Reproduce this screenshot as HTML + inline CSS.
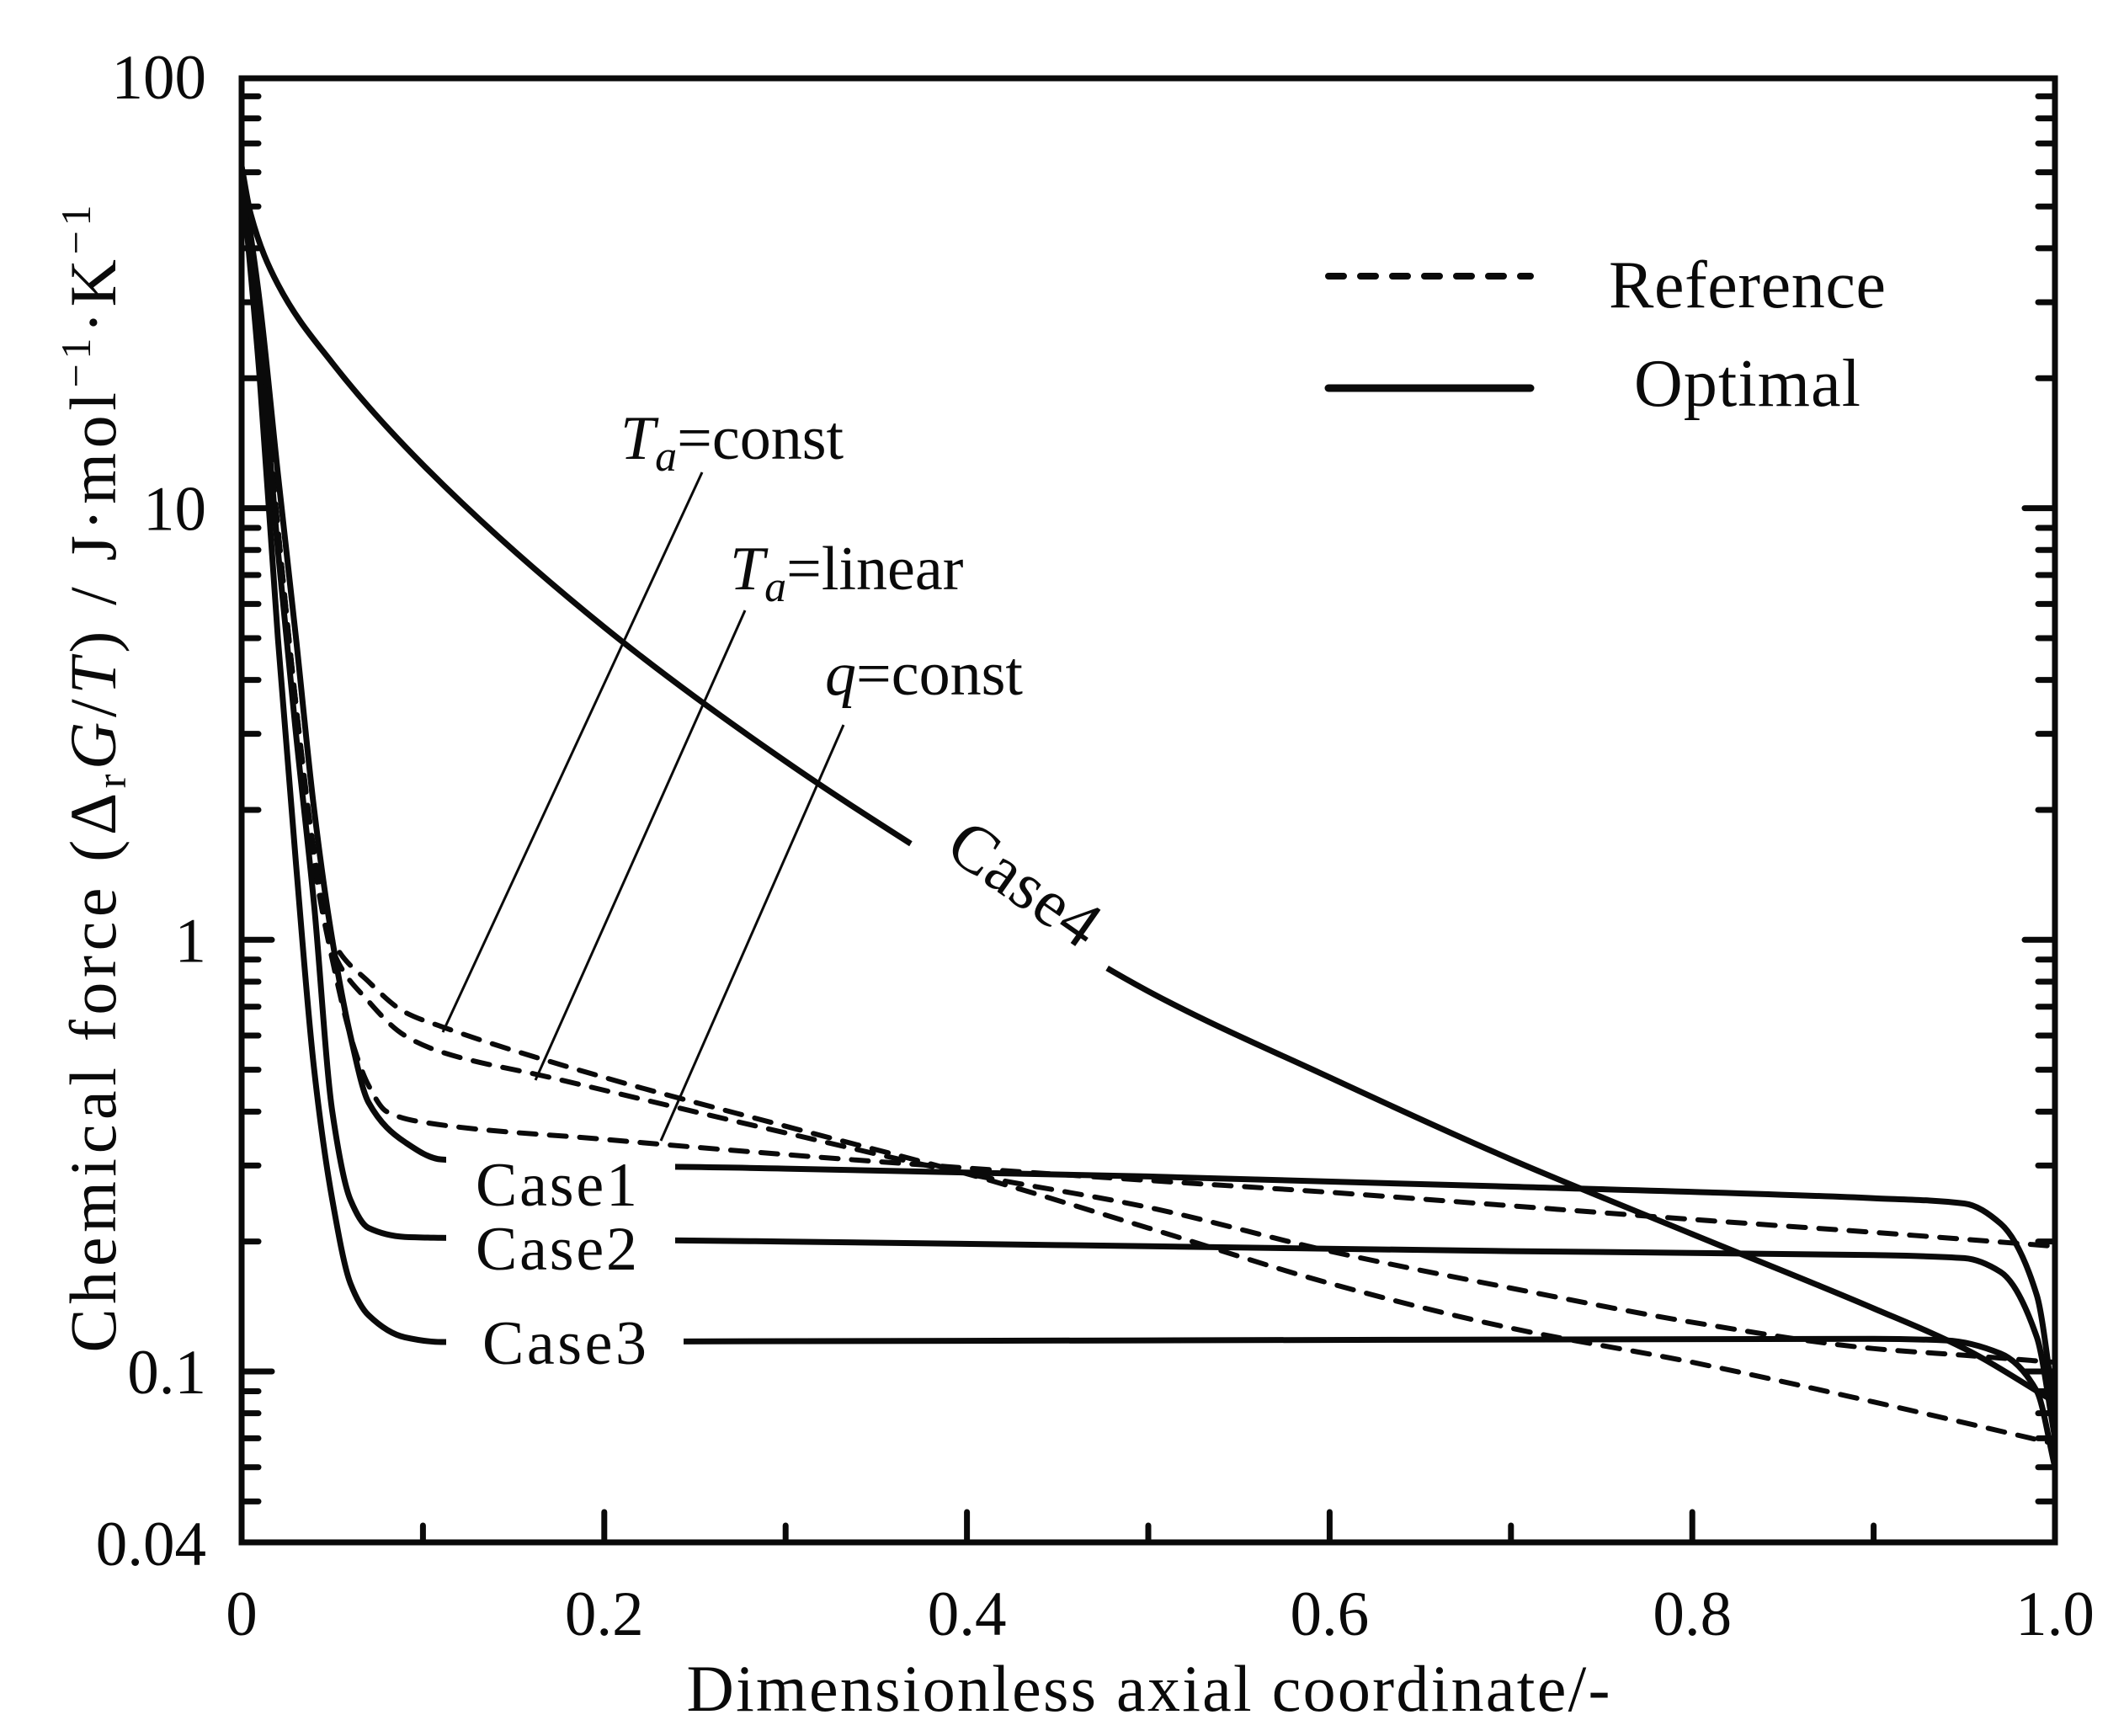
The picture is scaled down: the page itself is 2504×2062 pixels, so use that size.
<!DOCTYPE html>
<html><head><meta charset="utf-8">
<style>
html,body{margin:0;padding:0;background:#fff;}
svg{display:block;}
text{font-family:"Liberation Serif","Times New Roman",serif;}
</style></head>
<body>
<svg id="chart" width="2504" height="2062" viewBox="0 0 2504 2062" xmlns="http://www.w3.org/2000/svg" font-family="Liberation Serif, serif">
<rect x="0" y="0" width="2504" height="2062" fill="#fff"/>
<g id="curves"></g>
<g id="labels"></g>
<g id="axes"></g>
</svg>
<script>
const xTickValues=[0,0.2,0.4,0.6,0.8,1.0];
const xTickLabels=["0","0.2","0.4","0.6","0.8","1.0"];
const yTickValues=[100,10,1,0.1,0.04];
const yTickLabels=["100","10","1","0.1","0.04"];

const case1X=[0,0.01,0.02,0.03,0.04,0.05,0.06,0.07,0.09,0.11,0.3,0.5,0.7,0.9,0.95,0.97,0.99,1.0];
const case1Y=[60,30,12,5,2,1.0,0.6,0.42,0.34,0.31,0.295,0.283,0.268,0.252,0.245,0.22,0.15,0.08];
const case2X=[0,0.01,0.02,0.03,0.04,0.05,0.06,0.07,0.09,0.11,0.3,0.5,0.7,0.9,0.95,0.97,0.99,1.0];
const case2Y=[60,25,8,3,1.2,0.4,0.25,0.215,0.205,0.204,0.2,0.195,0.19,0.186,0.183,0.17,0.12,0.07];
const case3X=[0,0.01,0.02,0.03,0.04,0.05,0.06,0.07,0.09,0.11,0.5,0.9,0.94,0.97,0.99,1.0];
const case3Y=[60,20,5,1.5,0.5,0.25,0.16,0.135,0.12,0.117,0.118,0.119,0.118,0.11,0.09,0.06];
const case4X=[0,0.005,0.02,0.05,0.1,0.2,0.3,0.38,0.5,0.6,0.7,0.8,0.9,0.95,1.0];
const case4Y=[62,48,33,21.7,12.6,5.3,2.59,1.56,0.76,0.48,0.31,0.208,0.14,0.113,0.085];
const refConstX=[0,0.01,0.02,0.03,0.04,0.05,0.07,0.09,0.11,0.2,0.3,0.4,0.5,0.6,0.7,0.8,0.9,1.0];
const refConstY=[60,25,9,3.5,1.6,1.0,0.8,0.68,0.63,0.48,0.37,0.287,0.215,0.16,0.126,0.105,0.085,0.068];
const refLinearX=[0,0.01,0.02,0.03,0.04,0.05,0.07,0.09,0.11,0.17,0.3,0.4,0.5,0.6,0.7,0.8,0.9,0.95,1.0];
const refLinearY=[60,25,9,3.5,1.6,0.95,0.72,0.6,0.55,0.48,0.357,0.287,0.24,0.19,0.156,0.13,0.113,0.109,0.105];
const refQX=[0,0.01,0.02,0.03,0.04,0.05,0.06,0.07,0.08,0.1,0.2,0.3,0.4,0.5,0.6,0.7,0.8,0.9,1.0];
const refQY=[60,25,9,3.5,1.5,0.9,0.6,0.46,0.4,0.378,0.345,0.318,0.296,0.277,0.26,0.242,0.225,0.21,0.195];

const X0=287,X1=2441,YT=93,YB=1832;
function X(v){return X0+v*(X1-X0);}
function Y(v){return 1629-(Math.log10(v)+1)*512.7;}
const NS="http://www.w3.org/2000/svg";
function mk(tag,parent,attrs){const e=document.createElementNS(NS,tag);for(const k in attrs)e.setAttribute(k,attrs[k]);parent.appendChild(e);return e;}
// monotone cubic (Fritsch-Carlson) in pixel space
function pathD(xs,ys){
  const px=xs.map(X),py=ys.map(Y),n=px.length;
  const d=[],m=new Array(n);
  for(let i=0;i<n-1;i++)d.push((py[i+1]-py[i])/(px[i+1]-px[i]));
  m[0]=d[0];m[n-1]=d[n-2];
  for(let i=1;i<n-1;i++){
    if(d[i-1]*d[i]<=0)m[i]=0;
    else{const h0=px[i]-px[i-1],h1=px[i+1]-px[i];const w1=2*h1+h0,w2=h1+2*h0;m[i]=(w1+w2)/(w1/d[i-1]+w2/d[i]);}
  }
  let s="M"+px[0].toFixed(1)+","+py[0].toFixed(1);
  for(let i=0;i<n-1;i++){
    const h=(px[i+1]-px[i])/3;
    s+=" C"+(px[i]+h).toFixed(1)+","+(py[i]+m[i]*h).toFixed(1)+" "+(px[i+1]-h).toFixed(1)+","+(py[i+1]-m[i+1]*h).toFixed(1)+" "+px[i+1].toFixed(1)+","+py[i+1].toFixed(1);
  }
  return s;
}
const curves=document.getElementById("curves");
const clip=mk("clipPath",curves,{id:"pc"});
mk("rect",clip,{x:X0,y:YT,width:X1-X0,height:YB-YT});
const cg=mk("g",curves,{"clip-path":"url(#pc)"});
const series=[
 [refConstX,refConstY,true,"ref-ta-const-line"],
 [refLinearX,refLinearY,true,"ref-ta-linear-line"],
 [refQX,refQY,true,"ref-q-const-line"],
 [case1X,case1Y,false,"case1-line"],
 [case2X,case2Y,false,"case2-line"],
 [case3X,case3Y,false,"case3-line"],
 [case4X,case4Y,false,"case4-line"]];
series.forEach(s=>{
  const el=mk("path",cg,{d:pathD(s[0],s[1]),fill:"none",stroke:"#0a0a0a","stroke-width":s[2]?6:7,"stroke-linecap":"round","stroke-linejoin":"round"});
  if(s[2])el.setAttribute("stroke-dasharray","20 16");
  
  
});

const labels=document.getElementById("labels");
[[530,1368,272,72],[530,1448,272,68],[530,1568,282,62]].forEach((r,i)=>{
  const e=mk("rect",labels,{x:r[0],y:r[1],width:r[2],height:r[3],fill:"#fff"});
  
  
});
const m4=mk("rect",labels,{x:-138,y:-40,width:276,height:80,fill:"#fff",transform:"translate(1211,1055) rotate(30.6)"});



function txt(s,x,y,size,attrs,name){const e=mk("text",labels,Object.assign({x:x,y:y,"font-size":size,fill:"#0a0a0a","font-family":"Liberation Serif, serif"},attrs||{}));e.innerHTML=s;return e;}
txt("Case1",565,1432,74,{textLength:192},"case1-label");
txt("Case2",565,1508,74,{textLength:192},"case2-label");
txt("Case3",573,1620,74,{textLength:195},"case3-label");
txt("Case4",0,26,80,{"text-anchor":"middle",textLength:200,transform:"translate(1217,1050) rotate(35)"},"case4-label");
txt('<tspan font-style="italic">T</tspan><tspan font-style="italic" font-size="52" dy="14">a</tspan><tspan dy="-14">=const</tspan>',737,545,74,{},"ta-const-label");
txt('<tspan font-style="italic">T</tspan><tspan font-style="italic" font-size="52" dy="14">a</tspan><tspan dy="-14">=linear</tspan>',867,700,74,{},"ta-linear-label");
txt('<tspan font-style="italic">q</tspan>=const',980,825,74,{},"q-const-label");
[[834,561,526,1226,"ta-const-callout"],[885,725,636,1283,"ta-linear-callout"],[1002,861,785,1355,"q-const-callout"]].forEach(l=>{
  const e=mk("line",labels,{x1:l[0],y1:l[1],x2:l[2],y2:l[3],stroke:"#0a0a0a","stroke-width":3});
  
  
});
const lg=mk("g",labels,{});


const l1=mk("line",lg,{x1:1578,y1:328,x2:1818,y2:328,stroke:"#0a0a0a","stroke-width":8,"stroke-dasharray":"18 20","stroke-linecap":"round"});


const l2=mk("line",lg,{x1:1578,y1:461,x2:1818,y2:461,stroke:"#0a0a0a","stroke-width":9,"stroke-linecap":"round"});


txt("Reference",1911,365,80,{textLength:329},"legend-reference-label");
txt("Optimal",1941,482,80,{textLength:269},"legend-optimal-label");

const ax=document.getElementById("axes");
const frame=mk("rect",ax,{x:X0,y:YT,width:X1-X0,height:YB-YT,fill:"none",stroke:"#0a0a0a","stroke-width":7});


function tick(x1,y1,x2,y2,name){const e=mk("line",ax,{x1:x1,y1:y1,x2:x2,y2:y2,stroke:"#0a0a0a","stroke-width":7,"stroke-linecap":"round"});}
for(let d=-2;d<=1;d++){
  for(let m=1;m<10;m++){
    const v=m*Math.pow(10,d);
    if(v<0.04||v>100)continue;
    const y=Y(v);
    if(y<YT+5||y>YB-5)continue;
    const len=(m===1)?36:20;
    tick(X0,y,X0+len,y,"y-tick");
    tick(X1,y,X1-len,y,"y-tick-right");
  }
}
for(let i=1;i<10;i++){
  const len=(i%2===0)?36:20;
  tick(X(i/10),YB,X(i/10),YB-len,"x-tick");
}
xTickValues.forEach((v,i)=>{
  const e=mk("text",ax,{x:X(v),y:1942,"font-size":75,"text-anchor":"middle",fill:"#0a0a0a","font-family":"Liberation Serif, serif"});
  e.textContent=xTickLabels[i];
  
  
});
yTickValues.forEach((v,i)=>{
  const e=mk("text",ax,{x:245,y:Y(v)+26,"font-size":75,"text-anchor":"end",fill:"#0a0a0a","font-family":"Liberation Serif, serif"});
  e.textContent=yTickLabels[i];
  
  
});
const xt=mk("text",ax,{x:1364,y:2032,"font-size":78,"text-anchor":"middle",fill:"#0a0a0a",textLength:1097,"font-family":"Liberation Serif, serif"});
xt.textContent="Dimensionless axial coordinate/-";


const yt=mk("text",ax,{x:0,y:0,"font-size":78,"text-anchor":"middle",fill:"#0a0a0a",transform:"translate(137,925) rotate(-90)",textLength:1363,"font-family":"Liberation Serif, serif"});
yt.innerHTML='Chemical force (Δ<tspan font-size="50" dy="12">r</tspan><tspan dy="-12"><tspan font-style="italic">G</tspan>/<tspan font-style="italic">T</tspan>) / J·mol</tspan><tspan font-size="50" dy="-30">−1</tspan><tspan dy="30">·K</tspan><tspan font-size="50" dy="-30">−1</tspan>';


</script>
</body></html>
